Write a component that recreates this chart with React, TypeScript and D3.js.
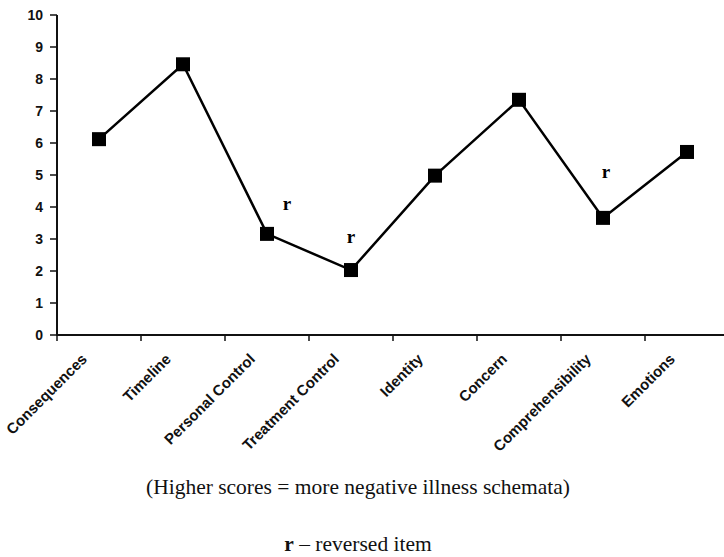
import React from "react";
import * as d3 from "d3";

const categories = [
  "Consequences",
  "Timeline",
  "Personal Control",
  "Treatment Control",
  "Identity",
  "Concern",
  "Comprehensibility",
  "Emotions",
];
const scores = [6.12, 8.46, 3.16, 2.03, 4.98, 7.35, 3.66, 5.72];
const reversed = [false, false, true, true, false, false, true, false];
const yTicks = [0, 1, 2, 3, 4, 5, 6, 7, 8, 9, 10];
const footnote = "(Higher scores = more negative illness schemata)";
const legendKey = "r";
const legendText = " \u2013 reversed item";

const W = 724;
const H = 557;

export default function App() {
  const x = d3
    .scaleBand<string>()
    .domain(categories)
    .range([57, 57 + 84 * categories.length]);
  const y = d3.scaleLinear().domain([0, 10]).range([335, 15]);
  const cx = (c: string) => (x(c) as number) + x.bandwidth() / 2;

  const line = d3
    .line<number>()
    .x((_, i) => cx(categories[i]))
    .y((d) => y(d));

  const rOffsets: Record<string, [number, number]> = {
    "Personal Control": [20, -24],
    "Treatment Control": [0, -27],
    Comprehensibility: [3, -40],
  };

  const sans = "Arial, 'Liberation Sans', Helvetica, sans-serif";
  const serif = "'Times New Roman', 'Liberation Serif', serif";
  const boundaries = categories.map((c) => x(c) as number);
  const m = 7;

  return (
    <svg
      width={W}
      height={H}
      style={{ position: "absolute", left: 0, top: 0, background: "#fff" }}
    >
      <rect x={0} y={0} width={W} height={H} fill="#fff" />
      {/* y axis */}
      <line x1={57} x2={57} y1={y(10)} y2={y(0) + 1} stroke="#111" strokeWidth={2} />
      {yTicks.map((t) => (
        <g key={t}>
          <line x1={50} x2={57} y1={y(t)} y2={y(t)} stroke="#111" strokeWidth={1.5} />
          <text
            x={43}
            y={y(t)}
            dy="0.36em"
            textAnchor="end"
            fontFamily={sans}
            fontWeight="bold"
            fontSize={14}
            fill="#111"
          >
            {t}
          </text>
        </g>
      ))}
      {/* x axis */}
      <line x1={56} x2={W} y1={y(0)} y2={y(0)} stroke="#111" strokeWidth={2} />
      {boundaries.map((b, i) => (
        <line key={i} x1={b} x2={b} y1={y(0)} y2={y(0) + 6} stroke="#111" strokeWidth={1.5} />
      ))}
      {categories.map((c) => (
        <text
          key={c}
          transform={`translate(${cx(c) - 11},${y(0) + 25}) rotate(-45)`}
          textAnchor="end"
          fontFamily={sans}
          fontWeight="bold"
          fontSize={15}
          fill="#111"
        >
          {c}
        </text>
      ))}
      {/* line */}
      <path d={line(scores) || ""} fill="none" stroke="#000" strokeWidth={2.5} />
      {scores.map((s, i) => (
        <rect
          key={i}
          x={cx(categories[i]) - m}
          y={y(s) - m}
          width={2 * m}
          height={2 * m}
          fill="#000"
        />
      ))}
      {categories.map((c, i) =>
        reversed[i] ? (
          <text
            key={"r" + c}
            x={cx(c) + rOffsets[c][0]}
            y={y(scores[i]) + rOffsets[c][1]}
            textAnchor="middle"
            fontFamily={serif}
            fontWeight="bold"
            fontSize={19}
            fill="#000"
          >
            {legendKey}
          </text>
        ) : null
      )}
      <text
        x={358}
        y={494}
        textAnchor="middle"
        fontFamily={serif}
        fontSize={21.5}
        fill="#111"
      >
        {footnote}
      </text>
      <text x={358} y={551} textAnchor="middle" fontFamily={serif} fontSize={21.5} fill="#111">
        <tspan fontWeight="bold">{legendKey}</tspan>
        {legendText}
      </text>
    </svg>
  );
}
